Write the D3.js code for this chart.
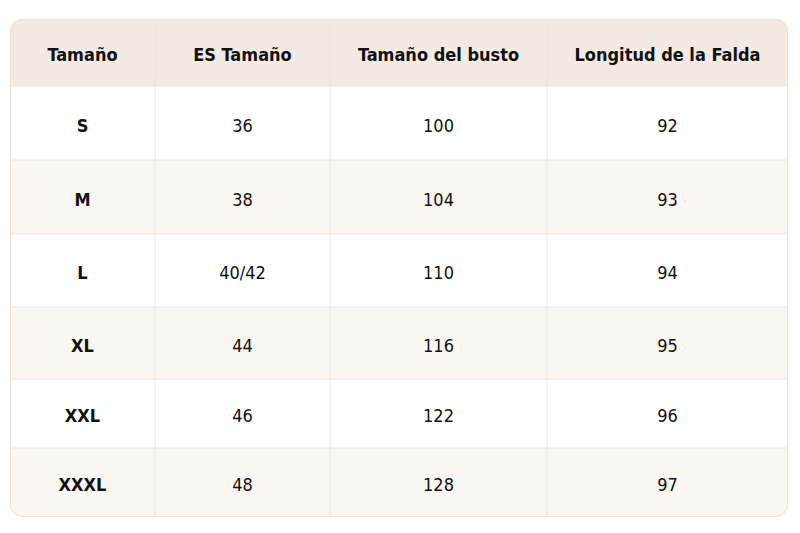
<!DOCTYPE html>
<html>
<head>
<meta charset="utf-8">
<script src="https://d3js.org/d3.v7.min.js"></script>
<style>
  body { margin: 0; background: #fff; }
  text { font-family: "DejaVu Sans", sans-serif; font-stretch: condensed; fill: #111; }
</style>
</head>
<body>
<script>
var headers = ["Tamaño", "ES Tamaño", "Tamaño del busto", "Longitud de la Falda"];
var sizes = ["S", "M", "L", "XL", "XXL", "XXXL"];
var esSizes = ["36", "38", "40/42", "44", "46", "48"];
var bust = [100, 104, 110, 116, 122, 128];
var skirt = [92, 93, 94, 95, 96, 97];

var colEdges = [10, 155, 330, 547, 788];
var rowEdges = [19, 86, 160, 234, 307, 379, 448, 517];

var svg = d3.select("body").append("svg").attr("width", 800).attr("height", 533);

svg.append("clipPath").attr("id", "clip")
  .append("rect").attr("x", 10).attr("y", 19).attr("width", 778).attr("height", 498).attr("rx", 12);

var g = svg.append("g").attr("clip-path", "url(#clip)");

var rows = [headers].concat(sizes.map(function(s, i) {
  return [s, esSizes[i], String(bust[i]), String(skirt[i])];
}));

rows.forEach(function(r, i) {
  var y0 = rowEdges[i], y1 = rowEdges[i + 1];
  g.append("rect").attr("x", 10).attr("y", y0).attr("width", 778).attr("height", y1 - y0)
    .attr("fill", i == 0 ? "#f3ebe3" : (i % 2 == 0 ? "#faf6f2" : "#ffffff"));
  r.forEach(function(t, j) {
    g.append("text")
      .attr("x", (colEdges[j] + colEdges[j + 1]) / 2)
      .attr("y", (y0 + y1) / 2 + 2)
      .attr("text-anchor", "middle")
      .attr("dominant-baseline", "central")
      .attr("font-size", 18)
      .attr("font-weight", (i == 0 || j == 0) ? "bold" : "normal")
      .text(t);
  });
});

colEdges.slice(1, -1).forEach(function(x) {
  g.append("line").attr("x1", x).attr("x2", x).attr("y1", 19).attr("y2", 517)
    .attr("stroke", "#ece6e0").attr("stroke-width", 1);
});
rowEdges.slice(1, -1).forEach(function(y) {
  g.append("line").attr("x1", 10).attr("x2", 788).attr("y1", y).attr("y2", y)
    .attr("stroke", "#ece6e0").attr("stroke-width", 1);
});
svg.append("rect").attr("x", 10.5).attr("y", 19.5).attr("width", 777).attr("height", 497).attr("rx", 12)
  .attr("fill", "none").attr("stroke", "#e8e2dc");
</script>
</body>
</html>
